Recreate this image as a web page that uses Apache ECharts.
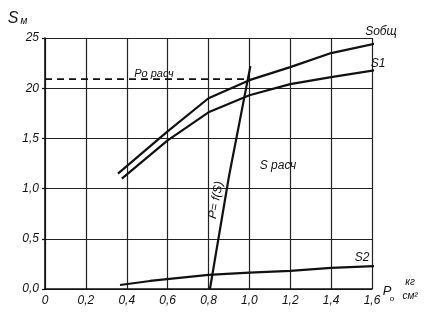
<!DOCTYPE html>
<html>
<head>
<meta charset="utf-8">
<script src="https://cdn.jsdelivr.net/npm/echarts@6/dist/echarts.min.js"></script>
<style>
html,body{margin:0;padding:0;background:#fff;}
#c{width:431px;height:316px;}
</style>
</head>
<body>
<div id="c"></div>
<script>
// ---- data ----
var xTickLabels = ['0', '0,2', '0,4', '0,6', '0,8', '1,0', '1,2', '1,4', '1,6'];
var yTickLabels = ['0,0', '0,5', '1,0', '1,5', '20', '25'];

var sObsh = [[0.357, 1.15], [0.6, 1.57], [0.8, 1.90], [1.0, 2.08], [1.2, 2.21], [1.4, 2.35], [1.65, 2.46]];
var s1 = [[0.376, 1.10], [0.6, 1.48], [0.8, 1.76], [1.0, 1.93], [1.2, 2.04], [1.4, 2.11], [1.65, 2.19]];
var s2 = [[0.367, 0.04], [0.514, 0.08], [0.8, 0.14], [1.0, 0.163], [1.2, 0.18], [1.4, 0.21], [1.64, 0.23]];
var pFs = [[0.807, 0.0], [0.9, 1.12], [1.005, 2.22]];
var poRasch = [[0.0, 2.09], [1.0, 2.09]];

var FONT = 'Liberation Sans';
var chart = echarts.init(document.getElementById('c'));

function lineSeries(data, dashed) {
  return {
    type: 'line', data: data, symbol: 'none', smooth: false, animation: false,
    lineStyle: { color: '#111', width: dashed ? 1.6 : 2.2, type: dashed ? [7, 5] : 'solid' }
  };
}

chart.setOption({
  backgroundColor: '#fff',
  animation: false,
  grid: { left: 45, right: 59, top: 38, bottom: 27 },
  xAxis: {
    type: 'value', min: 0, max: 1.6, interval: 0.2,
    axisLine: { show: true, lineStyle: { color: '#111', width: 1.6 } },
    axisTick: { show: false },
    splitLine: { show: true, lineStyle: { color: '#222', width: 1.2 } },
    axisLabel: {
      margin: 6, color: '#111', fontFamily: FONT, fontStyle: 'italic', fontSize: 12,
      formatter: function (v) { return xTickLabels[Math.round(v / 0.2)]; }
    }
  },
  yAxis: {
    type: 'value', min: 0, max: 2.5, interval: 0.5,
    axisLine: { show: true, lineStyle: { color: '#111', width: 1.6 } },
    axisTick: { show: true, length: 3, inside: false, lineStyle: { color: '#111', width: 1.2 } },
    splitLine: { show: true, lineStyle: { color: '#222', width: 1.2 } },
    axisLabel: {
      margin: 6, color: '#111', fontFamily: FONT, fontStyle: 'italic', fontSize: 12,
      formatter: function (v) { return yTickLabels[Math.round(v / 0.5)]; }
    }
  },
  series: [
    lineSeries(sObsh, false),
    lineSeries(s1, false),
    lineSeries(s2, false),
    lineSeries(pFs, false),
    lineSeries(poRasch, true)
  ]
});

function txt(text, x, y, size, extra) {
  var o = {
    type: 'text', x: x, y: y, silent: true,
    style: { text: text, fill: '#111', font: 'italic ' + size + 'px "' + FONT + '"', textAlign: 'center', textVerticalAlign: 'middle' }
  };
  if (extra) { for (var k in extra) o[k] = extra[k]; }
  return o;
}

chart.setOption({
  graphic: [
    txt('S', 13, 19, 16),
    txt('м', 24, 21, 10),
    txt('Sобщ', 381, 32, 12),
    txt('S1', 378, 64, 12),
    txt('S2', 362, 258, 12),
    txt('Ро расч', 154, 74, 11),
    txt('S расч', 278, 166, 12),
    txt('P= f(S)', 216, 200, 12, { rotation: 79.5 * Math.PI / 180 }),
    txt('P', 387, 291, 13),
    txt('о', 392, 299, 8),
    txt('кг', 410, 282, 10),
    txt('см²', 410, 296, 10)
  ]
});
</script>
</body>
</html>
